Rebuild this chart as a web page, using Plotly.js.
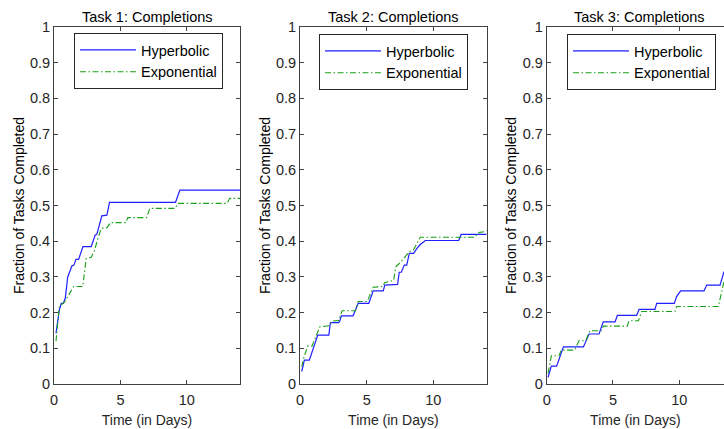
<!DOCTYPE html>
<html>
<head>
<meta charset="utf-8">
<script src="https://cdn.plot.ly/plotly-3.0.1.min.js"></script>
<style>
  html, body { margin: 0; padding: 0; background: #fff; overflow: hidden; }
  #chart { width: 724px; height: 429px; }
</style>
</head>
<body>
<div id="chart"></div>
<script>
// ---- Data ----
var seriesNames = ["Hyperbolic", "Exponential"];
var panelTitles = ["Task 1: Completions", "Task 2: Completions", "Task 3: Completions"];
var xTickVals = [0, 5, 10];
var yTickVals = [0, 0.1, 0.2, 0.3, 0.4, 0.5, 0.6, 0.7, 0.8, 0.9, 1];

// Task 1
var t1HypX = [0.15, 0.4, 0.55, 0.7, 0.85, 1.03, 1.35, 1.5, 1.65, 1.85, 2.18, 2.8, 3.1, 3.23, 3.6, 3.98, 4.18, 9.15, 9.47, 14];
var t1HypY = [0.142, 0.207, 0.226, 0.226, 0.24, 0.299, 0.331, 0.333, 0.349, 0.349, 0.385, 0.385, 0.417, 0.42, 0.471, 0.473, 0.509, 0.509, 0.543, 0.543];
var t1ExpX = [0.15, 0.4, 0.8, 1.05, 1.48, 2.16, 2.43, 2.8, 3.06, 3.23, 3.56, 4.0, 4.24, 5.4, 5.56, 6.97, 7.22, 9.1, 9.35, 13.03, 13.23, 14];
var t1ExpY = [0.12, 0.217, 0.23, 0.245, 0.273, 0.273, 0.352, 0.355, 0.375, 0.399, 0.436, 0.438, 0.452, 0.452, 0.466, 0.466, 0.492, 0.492, 0.506, 0.506, 0.52, 0.52];

// Task 2
var t2HypX = [0.13, 0.33, 0.7, 1.33, 2.16, 2.28, 2.9, 2.98, 3.1, 3.98, 4.36, 5.16, 5.49, 6.24, 6.36, 7.32, 7.44, 7.6, 7.82, 8.0, 8.2, 8.52, 8.77, 9.0, 9.4, 11.9, 12.08, 14];
var t2HypY = [0.035, 0.067, 0.067, 0.137, 0.137, 0.172, 0.172, 0.176, 0.191, 0.191, 0.226, 0.226, 0.261, 0.261, 0.277, 0.279, 0.313, 0.313, 0.333, 0.333, 0.366, 0.366, 0.38, 0.39, 0.402, 0.402, 0.419, 0.419];
var t2ExpX = [0.13, 0.3, 0.58, 0.9, 1.48, 2.16, 2.4, 2.9, 3.16, 4.16, 4.36, 5.04, 5.49, 6.2, 6.34, 6.84, 7.02, 7.19, 7.52, 8.2, 8.5, 9.02, 13.1, 13.36, 13.9, 14];
var t2ExpY = [0.048, 0.076, 0.106, 0.106, 0.16, 0.163, 0.176, 0.178, 0.205, 0.205, 0.231, 0.231, 0.271, 0.273, 0.284, 0.29, 0.29, 0.329, 0.34, 0.371, 0.375, 0.411, 0.411, 0.424, 0.427, 0.43];

// Task 3
var t3HypX = [0.1, 0.35, 0.75, 1.26, 2.77, 3.2, 3.95, 4.27, 5.16, 5.33, 6.79, 6.97, 8.17, 8.3, 9.63, 9.8, 10.11, 11.87, 12.08, 13.08, 13.38];
var t3HypY = [0.019, 0.05, 0.05, 0.104, 0.104, 0.14, 0.14, 0.174, 0.174, 0.192, 0.192, 0.209, 0.209, 0.226, 0.226, 0.245, 0.261, 0.261, 0.277, 0.277, 0.315];
var t3ExpX = [0.1, 0.35, 0.93, 1.1, 2.11, 2.44, 2.94, 3.25, 4.12, 4.27, 6.08, 6.21, 6.92, 7.17, 9.68, 9.81, 12.95, 13.2, 13.38];
var t3ExpY = [0.03, 0.079, 0.079, 0.095, 0.095, 0.121, 0.121, 0.149, 0.149, 0.162, 0.162, 0.177, 0.177, 0.203, 0.203, 0.217, 0.217, 0.254, 0.287];

// ---- Styling ----
var W = 724, H = 429;
var MT = 27, MB = 45;
var PH = H - MT - MB;
var FONT = "Liberation Sans, Arial, Helvetica, sans-serif";
var AX = "#404040";
var TXT = "#262626";
var BLUE = "#1f1fff";
var GREEN = "#18a018";
var DASHDOT = "6px,2.5px,1.5px,2.5px";

var panels = [
  {hx: t1HypX, hy: t1HypY, ex: t1ExpX, ey: t1ExpY, dom: [54 / W, 240 / W], range: [0, 14], box: [74, 33]},
  {hx: t2HypX, hy: t2HypY, ex: t2ExpX, ey: t2ExpY, dom: [300 / W, 486.7 / W], range: [0, 14], box: [319, 34]},
  {hx: t3HypX, hy: t3HypY, ex: t3ExpX, ey: t3ExpY, dom: [546.7 / W, 1], range: [0, 13.38], box: [567, 34]}
];

var traces = [];
var layout = {
  width: W, height: H,
  margin: {l: 0, r: 0, t: MT, b: MB, pad: 0},
  paper_bgcolor: "#fff", plot_bgcolor: "#fff",
  font: {family: FONT, size: 14, color: TXT},
  showlegend: true,
  annotations: []
};

panels.forEach(function (p, i) {
  var n = i + 1;
  var xa = "x" + (n === 1 ? "" : n), ya = "y" + (n === 1 ? "" : n);
  var lg = "legend" + (n === 1 ? "" : n);
  traces.push({
    x: p.hx, y: p.hy, xaxis: xa, yaxis: ya, legend: lg,
    type: "scatter", mode: "lines", name: seriesNames[0],
    line: {color: BLUE, width: 1.2}, cliponaxis: true
  });
  traces.push({
    x: p.ex, y: p.ey, xaxis: xa, yaxis: ya, legend: lg,
    type: "scatter", mode: "lines", name: seriesNames[1],
    line: {color: GREEN, width: 1.1, dash: DASHDOT}, cliponaxis: true
  });
  var xKey = "xaxis" + (n === 1 ? "" : n), yKey = "yaxis" + (n === 1 ? "" : n);
  layout[xKey] = {
    domain: p.dom, range: p.range, anchor: ya,
    tickvals: xTickVals, ticktext: xTickVals.map(String),
    ticks: "inside", ticklen: 4, tickcolor: AX, tickwidth: 1,
    ticklabelstandoff: 3,
    showline: true, linecolor: AX, linewidth: 1, mirror: "ticks",
    showgrid: false, zeroline: false,
    tickfont: {family: FONT, size: 14.5, color: TXT},
    title: {text: "Time (in Days)", font: {family: FONT, size: 14, color: TXT}, standoff: 7},
    fixedrange: true
  };
  layout[yKey] = {
    domain: [0, 1], range: [0, 1], anchor: xa,
    tickvals: yTickVals, ticktext: yTickVals.map(String),
    ticks: "inside", ticklen: 4, tickcolor: AX, tickwidth: 1,
    showline: true, linecolor: AX, linewidth: 1, mirror: (n === 3 ? false : "ticks"),
    showgrid: false, zeroline: false,
    tickfont: {family: FONT, size: 14.5, color: TXT},
    title: {text: "Fraction of Tasks Completed", font: {family: FONT, size: 14, color: "#000"}, standoff: 2},
    fixedrange: true
  };
  layout[lg] = {
    x: p.box[0] / W, y: 1 - (p.box[1] - MT) / PH, xanchor: "left", yanchor: "top",
    xref: "paper", yref: "paper",
    bgcolor: "#fff", bordercolor: TXT, borderwidth: 1,
    font: {family: FONT, size: 14.5, color: "#000"},
    itemwidth: 56, tracegroupgap: 0
  };
  layout.annotations.push({
    text: panelTitles[i], xref: "paper", yref: "paper",
    x: (p.dom[0] + (n === 3 ? (546.7 + 186) / W : p.dom[1])) / 2, y: 1,
    xanchor: "center", yanchor: "bottom", yshift: 0, showarrow: false,
    font: {family: FONT, size: 14.5, color: "#000"}
  });
});

Plotly.newPlot("chart", traces, layout, {displayModeBar: false, staticPlot: true});
</script>
</body>
</html>
